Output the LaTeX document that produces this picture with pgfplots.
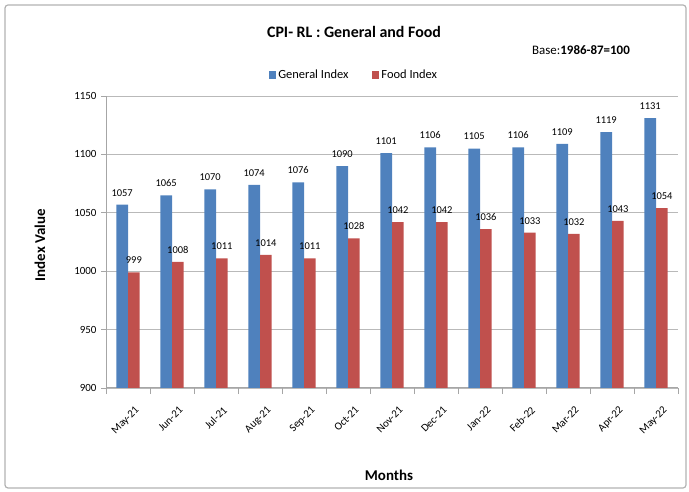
\documentclass[border=0pt]{standalone}
\usepackage{pgfplots}
\pgfplotsset{compat=1.18}
\usepackage{fontspec}
\setmainfont{Carlito}
\definecolor{exblue}{HTML}{4F81BD}
\definecolor{exred}{HTML}{C0504D}
\begin{document}
\begin{tikzpicture}
\path[use as bounding box] (0bp,0bp) rectangle (689bp,492bp);
\draw[gray!60, line width=1.2bp, rounded corners=3bp] (5bp,4bp) rectangle (686bp,487bp);
\begin{axis}[
  at={(106bp,104bp)}, anchor=south west,
  scale only axis, width=572bp, height=292bp,
  ybar=0bp, bar width=11.7bp,
  xmin=-0.5, xmax=12.5, ymin=900, ymax=1150,
  ytick={900,950,...,1150},
  xtick={0,...,12},
  xticklabels={May-21,Jun-21,Jul-21,Aug-21,Sep-21,Oct-21,Nov-21,Dec-21,Jan-22,Feb-22,Mar-22,Apr-22,May-22},
  minor xtick={-0.5,0.5,...,12.5},
  major x tick style={draw=none},
  tick align=outside,
  tick style={gray!70, line width=0.8bp},
  minor tick length=6bp, major tick length=5bp,
  ymajorgrids, grid style={gray!55, line width=0.9bp},
  axis x line*=bottom, axis y line*=left,
  axis line style={gray!70, line width=1bp, -},
  /pgf/number format/assume math mode=true,
  /pgf/number format/set thousands separator={},
  ticklabel style={font=\fontsize{11}{13}\selectfont},
  x tick label style={rotate=45, anchor=north east, xshift=-1bp, yshift=-10bp},
  yticklabel style={xshift=-1bp},
  nodes near coords,
  every node near coord/.append style={font=\fontsize{10.5}{12}\selectfont, text=black, yshift=5bp},
  legend style={at={(0.434,1)}, anchor=center, yshift=21bp, draw=none, fill=none,
    legend columns=2, font=\fontsize{12.5}{14}\selectfont,
    /tikz/every even column/.append style={column sep=22bp}},
  legend image code/.code={\fill[#1] (0bp,-4bp) rectangle (7bp,4bp);},
]
\addplot[fill=exblue, draw=none] coordinates {(0,1057) (1,1065) (2,1070) (3,1074) (4,1076) (5,1090) (6,1101) (7,1106) (8,1105) (9,1106) (10,1109) (11,1119) (12,1131)};
\addplot[fill=exred, draw=none] coordinates {(0,999) (1,1008) (2,1011) (3,1014) (4,1011) (5,1028) (6,1042) (7,1042) (8,1036) (9,1033) (10,1032) (11,1043) (12,1054)};
\legend{General Index, Food Index}
\end{axis}
\node[font=\bfseries\fontsize{16}{18}\selectfont] at (354bp,460bp) {CPI- RL : General and Food};
\node[font=\fontsize{13}{15}\selectfont] at (581bp,442bp) {Base:\textbf{1986-87=100}};
\node[font=\bfseries\fontsize{15}{17}\selectfont] at (389bp,17bp) {Months};
\node[font=\bfseries\fontsize{15}{17}\selectfont, rotate=90] at (40bp,247bp) {Index Value};
\end{tikzpicture}
\end{document}
